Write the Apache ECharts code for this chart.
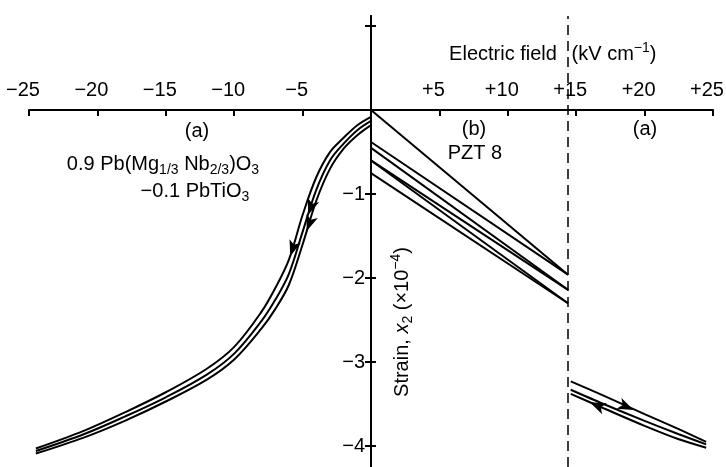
<!DOCTYPE html>
<html>
<head>
<meta charset="utf-8">
<script src="https://cdn.jsdelivr.net/npm/echarts@6/dist/echarts.min.js"></script>
<style>
  html, body { margin: 0; padding: 0; background: #fff; }
  #chart { width: 726px; height: 467px; }
</style>
</head>
<body>
<div id="chart"></div>
<script>
// (a) 0.9PMN-0.1PT, negative field: three traces of the loop
const pmnField = [0, -1, -2, -3, -4, -5, -6, -7, -8, -10, -12, -15, -18, -21, -24.5];
const pmnStrainA = [-0.08, -0.18, -0.33, -0.50, -0.80, -1.25, -1.78, -2.12, -2.40, -2.82, -3.08, -3.36, -3.60, -3.82, -4.03];
const pmnStrainB = [-0.13, -0.24, -0.40, -0.60, -0.95, -1.45, -1.95, -2.26, -2.51, -2.90, -3.15, -3.42, -3.65, -3.86, -4.06];
const pmnStrainC = [-0.18, -0.30, -0.46, -0.70, -1.08, -1.60, -2.08, -2.37, -2.60, -2.97, -3.21, -3.47, -3.70, -3.90, -4.09];

// (b) PZT 8: straight runs, strain at start and at cut-off field
const pztField = [0, 14.4];
const pztStrain = [
  [0, -1.96], [-0.38, -1.96],
  [-0.45, -2.14], [-0.60, -2.14],
  [-0.60, -2.30], [-0.75, -2.30]
];

// (a) positive field side
const posField = [14.6, 17, 20, 22.5, 24.5];
const posStrainA = [-3.23, -3.40, -3.62, -3.80, -3.95];
const posStrainB = [-3.33, -3.50, -3.70, -3.86, -3.98];
const posStrainC = [-3.38, -3.55, -3.76, -3.92, -4.02];

const cutField = 14.4;
const yTickVals = [-4, -3, -2, -1, 1];
const yLabelVals = [-4, -3, -2, -1];

const FONT = 'Liberation Sans';
const pair = (xs, ys) => xs.map((x, i) => [x, ys[i]]);

const lineBase = {
  type: 'line',
  showSymbol: false,
  silent: true,
  lineStyle: { color: '#000', width: 2 },
  itemStyle: { color: '#000' }
};

function arrow(coord, rot) {
  return { coord: coord, symbol: 'arrow', symbolSize: [9, 16], symbolRotate: rot,
           itemStyle: { color: '#000' }, label: { show: false } };
}

const series = [];
[pmnStrainA, pmnStrainB, pmnStrainC].forEach((ys, i) => {
  const s = Object.assign({}, lineBase, { data: pair(pmnField, ys), smooth: 0.35 });
  if (i === 0) s.markPoint = { silent: true, data: [arrow([-5.9, -1.74], 162)] };
  if (i === 1) s.markPoint = { silent: true, data: [arrow([-4.6, -1.25], 160)] };
  if (i === 2) s.markPoint = { silent: true, data: [arrow([-4.7, -1.44], 160)] };
  series.push(s);
});
pztStrain.forEach((ys, i) => {
  const s = Object.assign({}, lineBase, { data: pair(pztField, ys) });
  if (i === 0) {
    s.markLine = {
      silent: true, symbol: 'none', label: { show: false },
      lineStyle: { color: '#000', width: 1.5, type: [10, 6] },
      data: [{ xAxis: cutField }]
    };
  }
  series.push(s);
});
[posStrainA, posStrainB, posStrainC].forEach((ys, i) => {
  const s = Object.assign({}, lineBase, { data: pair(posField, ys), smooth: 0.3 });
  if (i === 0) s.markPoint = { silent: true, data: [arrow([19.2, -3.57], -114)] };
  if (i === 2) s.markPoint = { silent: true, data: [arrow([16.0, -3.48], 66)] };
  series.push(s);
});

const txt = { fill: '#000', fontFamily: FONT, fontSize: 20, align: 'center', verticalAlign: 'middle', lineHeight: 26 };
const richSub = {
  sub: { fontFamily: FONT, fontSize: 14, lineHeight: 12, verticalAlign: 'bottom', fill: '#000' },
  sup: { fontFamily: FONT, fontSize: 14, lineHeight: 12, verticalAlign: 'top', fill: '#000' },
  it: { fontFamily: FONT, fontSize: 20, fontStyle: 'italic', fill: '#000' }
};
function note(x, y, text, extra) {
  return Object.assign({ type: 'text', x: x, y: y, silent: true,
    style: Object.assign({}, txt, { text: text, rich: richSub }) }, extra || {});
}

const chart = echarts.init(document.getElementById('chart'));
chart.setOption({
  animation: false,
  backgroundColor: '#fff',
  grid: { left: 29, right: 13, top: 16, bottom: 0, outerBoundsMode: 'none', containLabel: false },
  xAxis: {
    type: 'value', position: 'top', min: -25, max: 25, interval: 5, offset: -94,
    axisLine: { onZero: false, lineStyle: { color: '#000', width: 2 } },
    axisTick: { inside: true, length: 6, lineStyle: { color: '#000', width: 2 } },
    axisLabel: {
      color: '#000', fontFamily: FONT, fontSize: 20, margin: 10, padding: [0, 12, 0, 0],
      formatter: v => v === 0 ? '' : (v > 0 ? '+' + v : '\u2212' + (-v))
    },
    splitLine: { show: false }
  },
  yAxis: [{
    type: 'value', min: -4.25, max: 1.12, offset: -342,
    axisLine: { onZero: false, lineStyle: { color: '#000', width: 2 } },
    axisTick: { length: 6, customValues: yTickVals, lineStyle: { color: '#000', width: 2 } },
    axisLabel: {
      color: '#000', fontFamily: FONT, fontSize: 20, margin: 6, customValues: yLabelVals,
      formatter: v => '\u2212' + Math.abs(v)
    },
    splitLine: { show: false }
  }, {
    type: 'value', position: 'right', min: -4.25, max: 1.12, offset: -342,
    axisLine: { onZero: false, lineStyle: { color: '#000', width: 2 } },
    axisTick: { length: 5, customValues: yTickVals, lineStyle: { color: '#000', width: 2 } },
    axisLabel: { show: false },
    splitLine: { show: false }
  }],
  series: series,
  graphic: [
    note(503, 54, 'Electric field'),
    note(614, 54, '(kV cm{sup|\u22121})'),
    note(197, 131, '(a)'),
    note(474, 129, '(b)'),
    note(645, 129, '(a)'),
    note(475, 153, 'PZT 8'),
    note(163, 164, '0.9 Pb(Mg{sub|1/3} Nb{sub|2/3})O{sub|3}'),
    note(195, 191, '\u22120.1 PbTiO{sub|3}'),
    note(402, 322, 'Strain, {it|x}{sub|2} (\u00d710{sup|\u22124})', { rotation: Math.PI / 2 })
  ]
});
</script>
</body>
</html>
